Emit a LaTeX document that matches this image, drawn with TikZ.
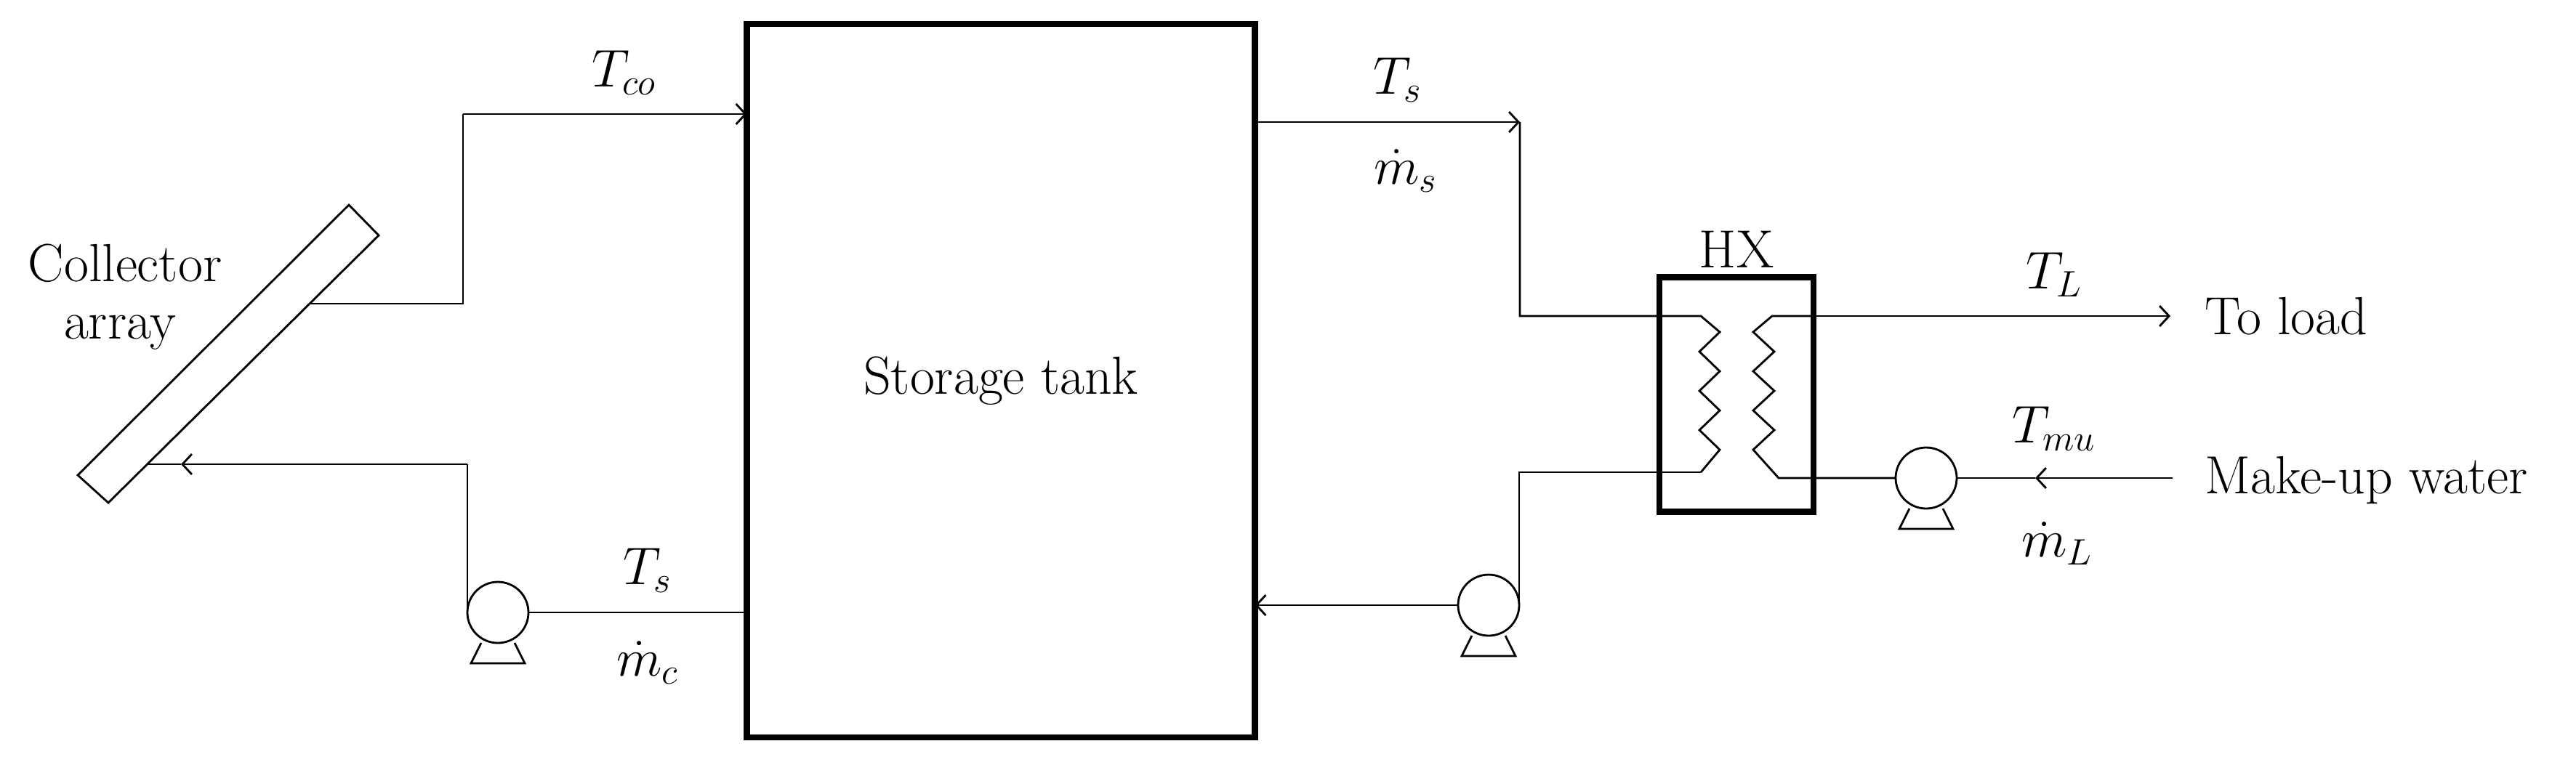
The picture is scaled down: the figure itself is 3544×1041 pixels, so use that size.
\documentclass[tikz,border=0pt]{standalone}
\usepackage{tikz}
\usetikzlibrary{arrows.meta}

\tikzset{
  pipe/.style={line width=0.8pt},
  flow/.style={pipe, -{Straight Barb[length=1.3mm,width=2.8mm]}},
  vessel/.style={draw, line width=2.3pt, inner sep=0pt, outer sep=0pt},
  pump/.style={draw, circle, line width=0.8pt, minimum size=84*0.01cm, inner sep=0pt, outer sep=0pt},
  lbl/.style={font=\fontsize{21}{25}\selectfont, inner sep=0pt},
}

\begin{document}
\begin{tikzpicture}[x=0.01cm, y=-0.01cm]
\useasboundingbox (0,0) rectangle (3544,1041);

% tank and heat exchanger
\node[vessel, lbl, minimum width=699*0.01cm, minimum height=982*0.01cm] (tank) at (1377,524) {Storage tank};
\node[vessel, minimum width=212*0.01cm, minimum height=323*0.01cm] (hx) at (2389,543) {};
\node[lbl, above=0.12cm] at (hx.north) {HX};

% collector array
\draw[pipe] (480,282) coordinate (colA) -- (521,324) coordinate (colB) -- (149,692) coordinate (colC) -- (107,654) coordinate (colD) -- cycle;
\node[lbl] at (172,362) {Collector};
\node[lbl] at (165,458) {array};
\coordinate (colout) at (426,418);
\coordinate (colin) at (203,639);

% pumps
\node[pump] (pc) at (685,843) {};
\node[pump] (ps) at (2048,833) {};
\node[pump] (pl) at (2650,658) {};
\foreach \p in {pc,ps,pl}
  \draw[pipe] (\p.center) ++(-23,42) -- ++(-14,28) -- ++(74,0) -- ++(-14,-28);

% collector loop
\coordinate (c1) at (637,418);
\coordinate (c2) at (637,157);
\draw[pipe] (colout) -- (c1) -- (c2);
\draw[flow] (c2) -- (c2 -| tank.west);
\node[lbl] at (859,100) {$T_{co}$};
\draw[pipe] (tank.west |- pc) -- (pc.east);
\coordinate (c3) at (pc.west |- colin);
\draw[pipe] (pc.west) -- (c3);
\draw[flow] (c3) -- (249,639);
\draw[pipe] (249,639) -- (colin);
\node[lbl] at (891,785) {$T_s$};
\node[lbl] at (891,912) {$\dot{m}_c$};

% load side of tank
\coordinate (s1) at (2091,168);
\draw[flow] (tank.east |- s1) -- (s1);
\node[lbl] at (1923,110) {$T_s$};
\node[lbl] at (1934,235) {$\dot{m}_s$};
\draw[pipe] (s1) -- (2091,435) -- (2340,435)
  -- (2366,457) -- (2338,484) -- (2366,511) -- (2338,538) -- (2366,565) -- (2338,592) -- (2366,619)
  -- (2340,650) coordinate (s2);
\coordinate (s3) at (ps.east |- s2);
\draw[pipe] (s2) -- (s3) -- (ps.east);
\draw[flow] (ps.west) -- (tank.east |- ps);

% load loop
\node[lbl, anchor=west] (load) at (3033,435) {To load};
\node[lbl, anchor=west] (mkup) at (3033,661) {Make-up water};
\draw[pipe] (pl.west) -- (2447,658)
  -- (2412,619) -- (2441,592) -- (2412,565) -- (2441,538) -- (2412,511) -- (2441,484) -- (2412,457)
  -- (2438,435) -- (hx.east |- load);
\draw[flow] (hx.east |- load) -- (2986,435);
\draw[flow] (2989,658) -- (2800,658);
\draw[pipe] (2800,658) -- (pl.east);
\node[lbl] at (2826,378) {$T_L$};
\node[lbl] at (2826,590) {$T_{mu}$};
\node[lbl] at (2830,748) {$\dot{m}_L$};

\end{tikzpicture}
\end{document}
